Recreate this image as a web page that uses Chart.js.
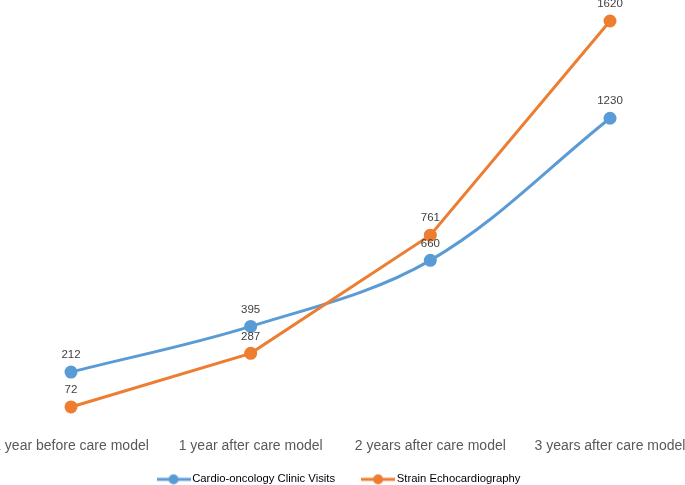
<!DOCTYPE html>
<html>
<head>
<meta charset="utf-8">
<script src="https://cdn.jsdelivr.net/npm/chart.js@4"></script>
<style>
  html, body { margin: 0; padding: 0; background: #fff; overflow: hidden; }
  #wrap { position: relative; width: 685px; height: 485px; overflow: hidden; }
</style>
</head>
<body>
<div id="wrap"><canvas id="chart" width="685" height="495"></canvas></div>
<script>
// Chart data
const periods = ['1 year before care model', '1 year after care model', '2 years after care model', '3 years after care model'];
const clinicVisits = [212, 395, 660, 1230];
const strainEcho = [72, 287, 761, 1620];

const BLUE = '#5B9BD5';
const ORANGE = '#ED7D31';

// small line + dot marker for the legend
function legendMarker(color) {
    const c = document.createElement('canvas');
    c.width = 34;
    c.height = 12;
    const g = c.getContext('2d');
    g.strokeStyle = color;
    g.lineWidth = 3;
    g.beginPath();
    g.moveTo(0, 6);
    g.lineTo(34, 6);
    g.stroke();
    g.fillStyle = color;
    g.beginPath();
    g.arc(17, 6, 5, 0, Math.PI * 2);
    g.fill();
    return c;
}
const markers = [legendMarker(BLUE), legendMarker(ORANGE)];

// value labels above each point
const valueLabels = {
    id: 'valueLabels',
    afterDatasetsDraw(chart) {
        const ctx = chart.ctx;
        ctx.save();
        ctx.font = '11.5px "Liberation Sans", Arial, sans-serif';
        ctx.fillStyle = '#404040';
        ctx.textAlign = 'center';
        ctx.textBaseline = 'middle';
        chart.data.datasets.forEach((ds, i) => {
            const meta = chart.getDatasetMeta(i);
            meta.data.forEach((pt, j) => {
                ctx.fillText(String(ds.data[j]), pt.x, pt.y - 17);
            });
        });
        ctx.restore();
    }
};

const ctx = document.getElementById('chart').getContext('2d');
const chart = new Chart(ctx, {
    type: 'line',
    data: {
        labels: periods,
        datasets: [{
            label: 'Cardio-oncology Clinic Visits',
            data: clinicVisits,
            borderColor: BLUE,
            backgroundColor: BLUE,
            borderWidth: 3,
            pointRadius: 6.5,
            pointHoverRadius: 6.5,
            pointBorderWidth: 0,
            tension: 0.35,
            clip: false,
            order: 2
        }, {
            label: 'Strain Echocardiography',
            data: strainEcho,
            borderColor: ORANGE,
            backgroundColor: ORANGE,
            borderWidth: 3,
            pointRadius: 6.5,
            pointHoverRadius: 6.5,
            pointBorderWidth: 0,
            tension: 0,
            clip: false,
            order: 1
        }]
    },
    options: {
        responsive: false,
        animation: false,
        layout: {
            padding: { left: 71, right: 75, top: 21, bottom: 0 }
        },
        scales: {
            x: {
                offset: false,
                grid: { display: false },
                border: { display: false },
                ticks: {
                    autoSkip: false,
                    maxRotation: 0,
                    padding: 5,
                    color: '#595959',
                    font: { family: '"Liberation Sans", Arial, sans-serif', size: 14 }
                },
                afterFit(scale) {
                    // let the outer labels run off the canvas, like the original
                    scale.paddingLeft = 0;
                    scale.paddingRight = 0;
                    // tighter axis box so the plot reaches lower; don't clip labels to it
                    scale.height -= 16;
                    scale._computeLabelArea = () => null;
                }
            },
            y: {
                display: false,
                min: 0,
                max: 1620
            }
        },
        plugins: {
            tooltip: { enabled: false },
            legend: {
                position: 'bottom',
                labels: {
                    usePointStyle: true,
                    pointStyleWidth: 26,
                    padding: 30,
                    color: '#595959',
                    font: { family: '"Liberation Sans", Arial, sans-serif', size: 11.3 },
                    generateLabels(chart) {
                        return chart.data.datasets.map((ds, i) => ({
                            text: ds.label,
                            fillStyle: ds.borderColor,
                            strokeStyle: ds.borderColor,
                            lineWidth: 0,
                            pointStyle: markers[i],
                            datasetIndex: i,
                            hidden: false
                        }));
                    }
                }
            }
        }
    },
    plugins: [valueLabels]
});
</script>
</body>
</html>
